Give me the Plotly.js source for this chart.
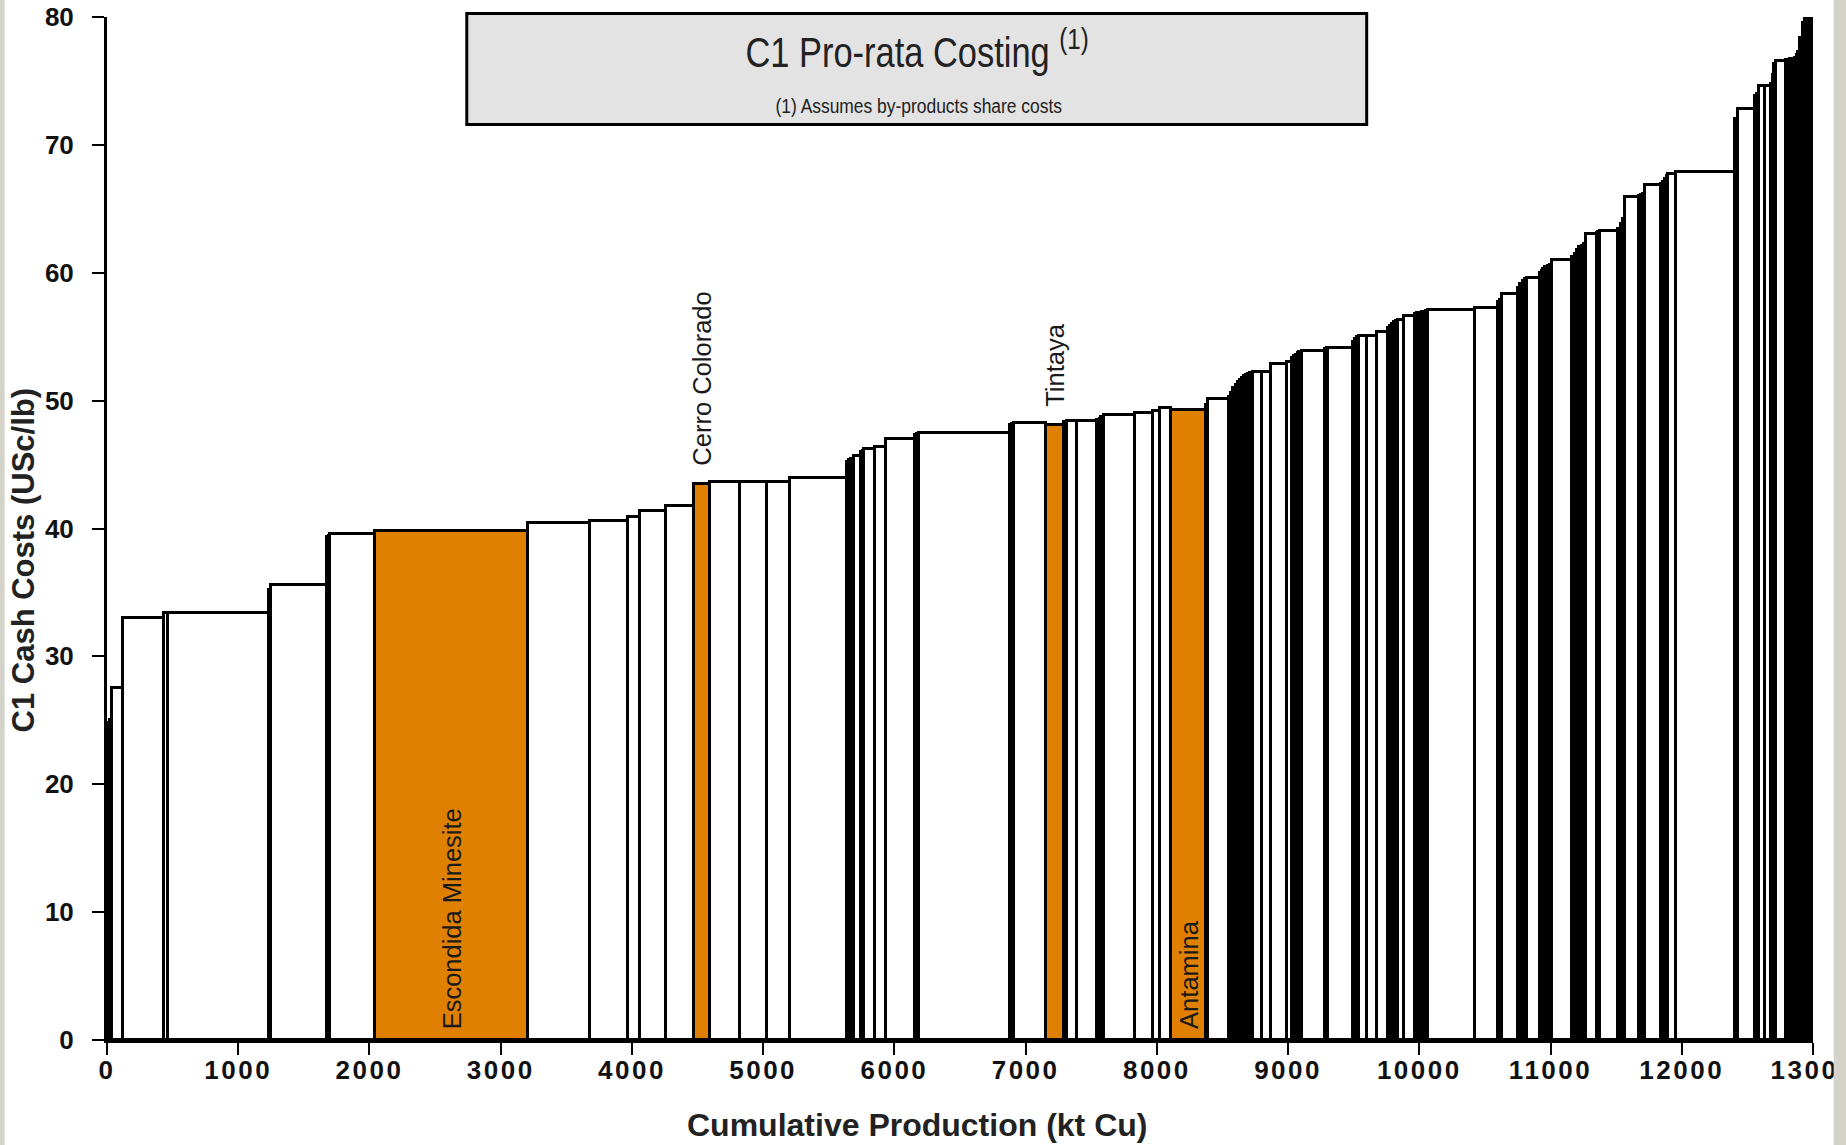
<!DOCTYPE html>
<html>
<head>
<meta charset="utf-8">
<script src="https://cdn.plot.ly/plotly-3.0.1.min.js"></script>
<style>
  html, body { margin: 0; padding: 0; background: #ffffff; }
  #chart { width: 1846px; height: 1145px; }
  .xtick text { letter-spacing: 2.5px; }
</style>
</head>
<body>
<div id="chart"></div>
<script>
// ---- DATA ----
// Production of each operation, kt Cu (bar widths), in cost order
const productionKt = [
  13, 13, 14, 82, 310, 36, 764, 18, 427, 12, 11, 345, 1165, 469, 291, 91, 200, 209, 126, 227, 205, 174, 439,
  16, 16, 16, 57, 13, 13, 78, 85, 222, 16, 17, 688, 15, 15, 250, 137, 12, 11, 77, 152, 16, 15, 16, 237, 143, 47, 84, 270, 17, 160,
  16, 16, 16, 16, 16, 16, 16, 15, 16, 15, 25, 64, 68, 127, 33, 15, 15, 15, 15, 16, 178, 13, 13, 190, 15, 15, 16, 56, 76, 89, 15, 15, 15, 15, 16, 40, 90,
  16, 16, 17, 17, 16, 17, 356, 178, 12, 13, 127, 16, 16, 16, 15, 102, 12, 13, 16, 16, 16, 16, 152, 25, 17, 17, 17, 17, 17, 81, 12, 13, 140, 17, 17, 16, 110, 14, 14, 15, 119, 15, 15, 15, 14, 58, 450,
  12, 13, 127, 16, 17, 41, 46, 14, 14, 14, 75, 16, 16, 16, 16, 17, 12, 12, 22, 17, 17, 17, 17
];
// C1 cash cost of each operation, USc/lb (bar heights)
const cashCostUSc = [
  24.6, 24.8, 25.0, 27.5, 33.0, 33.4, 33.4, 35.2, 35.55, 39.3, 39.45, 39.6, 39.8, 40.4, 40.56, 40.92, 41.34, 41.79, 43.5, 43.64, 43.6, 43.6, 43.98,
  45.2, 45.35, 45.46, 45.65, 46.0, 46.1, 46.2, 46.4, 47.0, 47.3, 47.4, 47.48, 48.1, 48.2, 48.26, 48.1, 48.3, 48.33, 48.38, 48.38, 48.5, 48.6, 48.7, 48.88, 49.02, 49.19, 49.45, 49.3, 49.65, 50.09,
  50.3, 50.6, 51.0, 51.2, 51.45, 51.65, 51.8, 51.9, 52.0, 52.1, 52.15, 52.25, 52.25, 52.85, 53.03, 53.3, 53.5, 53.6, 53.7, 53.8, 53.9, 54.0, 54.1, 54.15, 54.6, 54.8, 54.95, 55.06, 55.06, 55.38, 55.7, 55.85, 56.0, 56.15, 56.25, 56.34, 56.65,
  56.8, 56.85, 56.88, 56.9, 56.95, 57.0, 57.07, 57.28, 57.7, 57.85, 58.37, 58.8, 59.1, 59.35, 59.55, 59.62, 60.0, 60.14, 60.3, 60.45, 60.55, 60.6, 61.03, 61.2, 61.5, 61.8, 62.0, 62.1, 62.28, 63.0, 63.1, 63.2, 63.27, 63.4, 63.8, 64.23, 65.92, 66.0, 66.05, 66.13, 66.89, 66.95, 67.1, 67.3, 67.54, 67.7, 67.88,
  72.0, 72.05, 72.77, 73.8, 74.0, 74.57, 74.6, 74.8, 75.5, 76.3, 76.55, 76.6, 76.65, 76.7, 76.74, 76.8, 77.0, 77.25, 78.37, 79.5, 80.0, 80.1, 80.3
];
// Highlighted operations (position in the cost order) and their names
const highlightIndex = [12, 18, 38, 50];
const highlightNames = ["Escondida Minesite", "Cerro Colorado", "Tintaya", "Antamina"];
const highlightInside = [true, false, false, true];

const xTickValues = [0, 1000, 2000, 3000, 4000, 5000, 6000, 7000, 8000, 9000, 10000, 11000, 12000, 13000];
const yTickValues = [0, 10, 20, 30, 40, 50, 60, 70, 80];

const chartTitle = "C1 Pro-rata Costing <sup>(1)</sup>";
const chartNote = "(1) Assumes by-products share costs";
const xTitle = "Cumulative Production (kt Cu)";
const yTitle = "C1 Cash Costs (USc/lb)";

// ---- STYLE ----
const ORANGE = "#E08000";
const WHITE = "#FFFFFF";
const SANS = "Liberation Sans, Arial, sans-serif";

// ---- build bars from cumulative production ----
const leftEdge = [];
let acc = 0;
for (const w of productionKt) { leftEdge.push(acc); acc += w; }
const midX = productionKt.map((w, i) => leftEdge[i] + w / 2);
const fillColors = productionKt.map((_, i) => highlightIndex.includes(i) ? ORANGE : WHITE);

const bars = {
  type: "bar",
  x: midX,
  y: cashCostUSc,
  width: productionKt,
  marker: { color: fillColors, line: { color: "#000000", width: 3 } },
  cliponaxis: false,
  hoverinfo: "x+y",
  showlegend: false
};

const annotations = highlightIndex.map((idx, k) => ({
  x: midX[idx],
  y: highlightInside[k] ? 0.7 : cashCostUSc[idx] + 1.25,
  xref: "x", yref: "y",
  text: highlightNames[k],
  showarrow: false,
  textangle: -90,
  xanchor: "center",
  yanchor: "bottom",
  font: { family: SANS, size: 25.5, color: "#1a1a1a" }
}));

// subtitle inside the title box
annotations.push({
  x: 0.4758, y: 0.9136, xref: "paper", yref: "paper",
  text: chartNote, showarrow: false,
  xanchor: "center", yanchor: "middle",
  font: { family: SANS, size: 21, color: "#222222" }
});
// axis titles (placed where the reference has them)
annotations.push({
  x: 0.4746, y: -0.0835, xref: "paper", yref: "paper",
  text: xTitle, showarrow: false,
  xanchor: "center", yanchor: "middle",
  font: { family: SANS, size: 32, weight: "bold", color: "#222222" }
});
annotations.push({
  x: -0.0491, y: 0.469, xref: "paper", yref: "paper",
  text: yTitle, showarrow: false, textangle: -90,
  xanchor: "center", yanchor: "middle",
  font: { family: SANS, size: 31, weight: "bold", color: "#222222" }
});

const layout = {
  width: 1846,
  height: 1145,
  paper_bgcolor: "#ffffff",
  plot_bgcolor: "#ffffff",
  margin: { l: 107, r: 33, t: 17, b: 105 },
  barmode: "overlay",
  bargap: 0,
  showlegend: false,
  title: {
    text: chartTitle,
    font: { family: SANS, size: 42, color: "#222222" },
    xref: "container", yref: "container",
    x: 0.4968, xanchor: "center",
    y: 0.9546, yanchor: "middle"
  },
  xaxis: {
    range: [0, 13000],
    tickvals: xTickValues,
    ticktext: xTickValues.map(String),
    ticks: "outside", ticklen: 12, tickwidth: 2, tickcolor: "#000",
    showline: true, linewidth: 3, linecolor: "#000",
    showgrid: false, zeroline: false,
    ticklabelstandoff: -7,
    ticklabeloverflow: "allow",
    tickfont: { family: SANS, size: 26, weight: "bold", color: "#111" }
  },
  yaxis: {
    range: [0, 80],
    tickvals: yTickValues,
    ticktext: yTickValues.map(String),
    ticks: "outside", ticklen: 12, tickwidth: 2, tickcolor: "#000",
    showline: true, linewidth: 3, linecolor: "#000",
    showgrid: false, zeroline: false,
    ticklabelstandoff: 13,
    tickfont: { family: SANS, size: 26, weight: "bold", color: "#111" }
  },
  shapes: [
    { type: "rect", xref: "paper", yref: "paper", x0: 0.2109, x1: 0.7384, y0: 0.895, y1: 1.0034,
      fillcolor: "#e3e3e3", line: { color: "#000", width: 3 }, layer: "above" },
    { type: "rect", xref: "paper", yref: "paper", x0: -0.0629, x1: -0.0600, y0: -0.11, y1: 1.02,
      fillcolor: "#d3d3c9", line: { width: 0 }, layer: "above" },
    { type: "rect", xref: "paper", yref: "paper", x0: 1.0121, x1: 1.0200, y0: -0.11, y1: 1.02,
      fillcolor: "#d3d3c9", line: { width: 0 }, layer: "above" }
  ],
  annotations: annotations
};

// condense a text element horizontally about its own centre (the reference uses a narrow face)
function condense(el, sx) {
  if (!el) return;
  const bb = el.getBBox();
  const cx = bb.x + bb.width / 2;
  el.setAttribute("transform", "translate(" + cx + ",0) scale(" + sx + ",1) translate(" + (-cx) + ",0)");
}

Plotly.newPlot("chart", [bars], layout, { displayModeBar: false, responsive: false }).then(gd => {
  condense(gd.querySelector(".gtitle"), 0.82);
  gd.querySelectorAll(".annotation-text").forEach(t => {
    if (t.textContent.indexOf("Assumes") >= 0) condense(t, 0.83);
  });
});
</script>
</body>
</html>
